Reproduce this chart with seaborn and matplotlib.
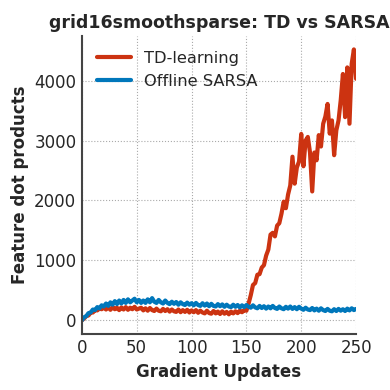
import matplotlib
matplotlib.use("Agg")
import matplotlib.pyplot as plt
import numpy as np
import pandas as pd
import seaborn as sns

# gradient updates, sampled every 2 steps
updates = list(range(0, 252, 2))

td_values = [
    0, 30, 70, 80, 130, 130, 170, 165, 195, 185, 210,
    180, 215, 175, 220, 185, 210, 170, 215, 180, 220, 175, 210, 185, 225, 180,
    195, 210, 165, 200, 160, 205, 170, 155, 195, 160, 150, 190, 155, 185, 145,
    180, 150, 140, 180, 135, 170, 140, 175, 130, 165,
    135, 170, 125, 160, 130, 115, 160, 120, 110, 155, 115, 145, 105, 150, 110,
    140, 100, 145, 115, 150, 120, 160, 135, 170, 160,
    280, 420, 590, 620, 760, 770, 880, 920, 1080, 1180, 1430, 1460, 1400, 1580,
    1620, 1780, 1980, 1870, 2100, 2250, 2730, 2280, 2550, 2650, 3110, 2570,
    3000, 3060, 2800, 2150, 2800, 2670, 3090, 2900, 3280, 3400, 3610, 3115,
    3335, 2755, 3170, 3335, 3670, 4110, 3390, 4220, 3280, 4280, 4520, 4030,
]

sarsa_values = [
    0, 50, 70, 120, 130, 180, 170, 220, 200, 250, 230,
    280, 240, 300, 260, 320, 270, 330, 280, 340, 290, 350, 300, 330, 360, 300,
    340, 290, 330, 290, 350, 300, 370, 310, 290, 340, 300, 280, 330, 290, 270,
    310, 275, 305, 260, 300, 270, 255, 295, 260, 285,
    250, 290, 255, 240, 285, 245, 280, 235, 275, 240, 230, 270, 235, 265, 225,
    260, 230, 220, 260, 225, 255, 215, 250, 220, 255,
    225, 210, 250, 215, 200, 240, 205, 235, 195, 230, 200, 240, 205, 190, 230,
    200, 185, 225, 195, 230, 190, 220, 185, 225, 195, 175, 210, 180, 170, 205,
    165, 195, 160, 200, 170, 155, 190, 160, 150, 185, 155, 190, 160, 185, 155,
    195, 165, 200, 170, 190,
]

df = pd.DataFrame({
    "update": updates * 2,
    "value": td_values + sarsa_values,
    "method": ["TD-learning"] * len(updates) + ["Offline SARSA"] * len(updates),
})

sns.set_style("whitegrid", {"grid.linestyle": ":", "grid.color": "#aaaaaa",
                            "axes.edgecolor": "#444444"})
plt.rcParams["font.family"] = ["DejaVu Sans"]

fig = plt.figure(figsize=(3.9, 3.9), dpi=100)
ax = fig.add_axes([0.21, 0.144, 0.703, 0.764])

sns.lineplot(data=df, x="update", y="value", hue="method",
             palette={"TD-learning": "#cc3311", "Offline SARSA": "#0077bb"},
             linewidth=3, ax=ax)

ax.set_xlim(0, 250)
ax.set_xticks([0, 50, 100, 150, 200, 250])
ax.set_yticks([0, 1000, 2000, 3000, 4000])
ax.tick_params(labelsize=12, length=0, pad=4)
for side in ["top", "right"]:
    ax.spines[side].set_visible(False)
for side in ["left", "bottom"]:
    ax.spines[side].set_linewidth(1.5)

ax.set_xlabel("Gradient Updates", fontsize=12, fontweight="bold")
ax.set_ylabel("Feature dot products", fontsize=12, fontweight="bold")
ax.set_title("grid16smoothsparse: TD vs SARSA", fontsize=12.5, fontweight="bold")
ax.legend(loc="upper left", frameon=False, fontsize=11.7, handlelength=2.1)

fig.savefig("out.png", dpi=100)
